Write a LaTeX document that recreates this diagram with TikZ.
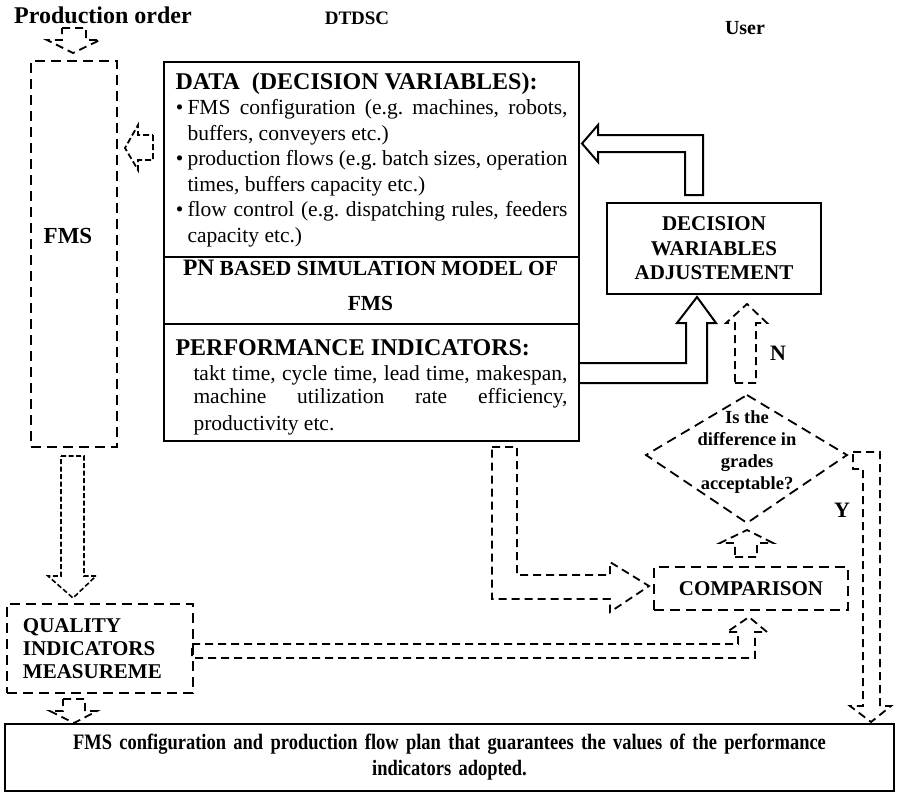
\documentclass[tikz,border=0pt]{standalone}
\usepackage{fontspec}
\setmainfont{Liberation Serif}
\newfontfamily\narrowfont[FakeStretch=0.84]{Liberation Serif}
\usetikzlibrary{positioning}
\setlength{\parindent}{0pt}
\frenchspacing

\tikzset{
  solidbox/.style={draw, line width=2pt},
  dashbox/.style={draw, line width=2pt, dash pattern=on 10pt off 6pt},
  arrowdash/.style={line width=1.8pt, dash pattern=on 8pt off 5pt},
  finedash/.style={line width=1.6pt, dash pattern=on 5pt off 2.5pt},
  blockline/.style={line width=2pt, line join=miter},
  headtext/.style={font=\fontsize{21}{24.5}\selectfont\bfseries, align=center},
  bodytext/.style={font=\fontsize{21.5}{25.5}\selectfont}
}

\begin{document}
\begin{tikzpicture}[x=1pt,y=-1pt]
\useasboundingbox (0,0) rectangle (900,796);

% titles
\node[font=\fontsize{24}{26}\selectfont\bfseries] (prod) at (103,15) {Production order};
\node[font=\fontsize{19}{22}\selectfont\bfseries] (dtdsc) at (357,18) {DTDSC};
\node[font=\fontsize{20}{22}\selectfont\bfseries] (user) at (745,28) {User};

% FMS column
\node[dashbox, anchor=north west, minimum width=86pt, minimum height=386pt] (fms) at (30,60) {};
\node[font=\fontsize{23}{26}\selectfont\bfseries] (fmstext) at (68,236) {FMS};

% DTDSC block
\node[solidbox, bodytext, anchor=north west, text width=392pt, inner xsep=11.5pt,
      minimum height=195pt, align=justify] (data) at (163,61) {%
  {\fontsize{24}{26}\selectfont\bfseries DATA\ \ (DECISION VARIABLES):\par}
  \begin{list}{\textbullet}{\setlength{\leftmargin}{12pt}\setlength{\labelwidth}{8pt}%
    \setlength{\labelsep}{4pt}\setlength{\itemsep}{0pt}\setlength{\parsep}{0pt}%
    \setlength{\topsep}{0pt}\setlength{\partopsep}{0pt}}
  \item FMS configuration (e.g. machines, robots,\linebreak buffers, conveyers etc.)
  \item production flows (e.g. batch sizes, operation\linebreak times, buffers capacity etc.)
  \item flow control (e.g. dispatching rules, feeders\linebreak capacity etc.)
  \end{list}};
\node[solidbox, anchor=north west, minimum width=415pt, minimum height=67pt] (pn) at (163,256) {};
\node[align=center, font=\fontsize{21.5}{35}\selectfont\bfseries] (pntext) at (370.5,285)
  {{\fontsize{23.5}{35}\selectfont PN} BASED SIMULATION MODEL OF\\FMS};
\node[solidbox, bodytext, anchor=north west, text width=392pt, inner xsep=11.5pt,
      minimum height=117pt, align=justify] (perf) at (163,323) {%
  {\fontsize{24}{26}\selectfont\bfseries\rule{0pt}{25.5pt}PERFORMANCE INDICATORS:\par}
  \vspace{2pt}
  {\fontsize{21.5}{23}\selectfont\parfillskip=0pt \hangindent=18pt\hangafter=0
   takt time, cycle time, lead time, makespan,\linebreak machine utilization rate efficiency,\par}
  \vspace{2pt}
  {\hangindent=18pt\hangafter=0 productivity etc.\par}};

% user side
\node[solidbox, headtext, anchor=north west, minimum width=214pt, minimum height=91pt] (adjust)
  at (606,202) {DECISION\\WARIABLES\\ADJUSTEMENT};
\draw[arrowdash, dash pattern=on 10pt off 6pt] (747,395) -- (847,455) -- (747,523) -- (646,455) -- cycle;
\node[align=center, font=\fontsize{18.5}{22}\selectfont\bfseries] (test) at (747,452)
  {Is the\\difference in\\grades\\acceptable?};
\node[font=\fontsize{22}{24}\selectfont\bfseries] (no) at (778,353) {N};
\node[font=\fontsize{22}{24}\selectfont\bfseries] (yes) at (842,510) {Y};
\node[dashbox, headtext, anchor=north west, minimum width=194pt, minimum height=43pt] (comp)
  at (653,566) {COMPARISON};

% measurement and result
\node[dashbox, anchor=north west, minimum width=186pt, minimum height=89pt, text width=154pt,
      inner xsep=16pt, align=left, font=\fontsize{21}{23}\selectfont\bfseries] (quality)
  at (6,603) {QUALITY\\INDICATORS\\MEASUREME};
\node[solidbox, anchor=north west, minimum width=889pt, minimum height=67pt, text width=860pt,
      align=center, font=\narrowfont\fontsize{22}{26}\selectfont\bfseries] (result) at (4,723)
  {FMS configuration and production flow plan that guarantees the values of the performance\\indicators adopted.};

% hollow arrows
\draw[arrowdash] (62,28) -- (86,28) -- (86,40) -- (100,40) -- (73,53) -- (47,40) -- (62,40) -- cycle;
\draw[arrowdash, dash pattern=on 6pt off 3pt] (153,135) -- (153,160) -- (138,160) -- (138,170)
  -- (125,148) -- (138,125) -- (138,135) -- cycle;
\draw[finedash] (61,456) -- (84,456) -- (84,576) -- (96,576) -- (73,598) -- (48,576) -- (61,576) -- cycle;
\draw[arrowdash] (63,699) -- (85,699) -- (85,711) -- (97,711) -- (74,723) -- (50,711) -- (63,711) -- cycle;
\draw[arrowdash] (492,447) -- (517,447) -- (517,575) -- (610,575) -- (610,562) -- (649,586)
  -- (610,612) -- (610,599) -- (492,599) -- cycle;
\draw[arrowdash] (192,644) -- (738,644) -- (738,632) -- (727,632) -- (749,617) -- (767,632)
  -- (755,632) -- (755,658) -- (192,658) -- cycle;
\draw[arrowdash] (735,557) -- (757,557) -- (757,543) -- (773,543) -- (747,530) -- (720,543) -- (735,543) -- cycle;
\draw[arrowdash] (735,383) -- (756,383) -- (756,323) -- (767,323) -- (747,304) -- (726,323) -- (735,323) -- cycle;
\draw[arrowdash] (853,452) -- (880,452) -- (880,706) -- (891,706) -- (871,722) -- (850,706)
  -- (863,706) -- (863,469) -- (853,469) -- cycle;

\draw[blockline] (685,195) -- (703,195) -- (703,135) -- (598,135) -- (598,125) -- (582,143.5)
  -- (598,162) -- (598,152) -- (685,152) -- cycle;
\draw[blockline] (578,363) -- (686,363) -- (686,323) -- (677,323) -- (697,297) -- (716,323)
  -- (707,323) -- (707,383) -- (578,383);
\end{tikzpicture}
\end{document}
